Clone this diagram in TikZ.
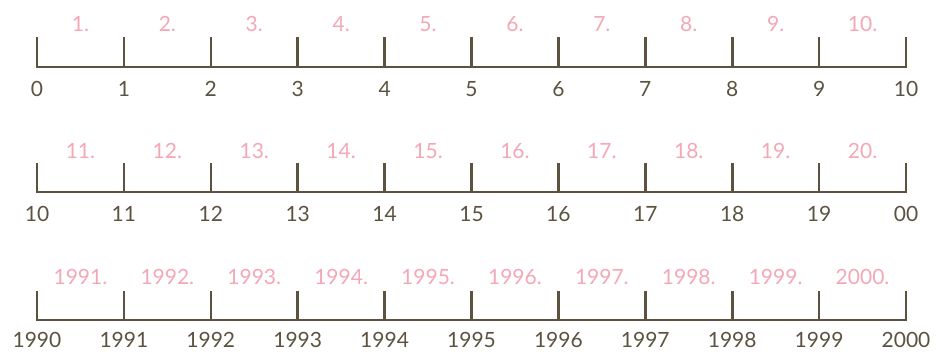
\documentclass[tikz,border=0pt]{standalone}
\usepackage{fontspec}
\setmainfont{Lato}
\usepackage{tikz}
\usetikzlibrary{calc}

\definecolor{axisbrown}{HTML}{5C5240}
\definecolor{yearpink}{HTML}{F4A7B6}

\tikzset{
  axisline/.style={line width=2.6pt, axisbrown},
  ticklabel/.style={anchor=base, font=\fontsize{21}{23}\selectfont, text=axisbrown, inner sep=0pt},
  spanlabel/.style={anchor=base, font=\fontsize{21}{23}\selectfont, text=yearpink, inner sep=0pt}
}

\begin{document}
\begin{tikzpicture}[x=1pt, y=-1pt]
  \useasboundingbox (0,0) rectangle (938,352);
  % three number lines, tick spacing 86.9, from x=37 to x=906

  % Row 1: 0 ... 10
  \foreach \i in {0,...,10} {
    \coordinate (a\i) at (37+86.9*\i,67);
    \coordinate (at\i) at (37+86.9*\i,37);
    \node[ticklabel] (al\i) at (37+86.9*\i,97) {\i};
  }
  \draw[axisline] (at0) -- (a0) -- (a10) -- (at10);
  \foreach \i in {1,...,9} {
    \draw[axisline] (a\i) -- (at\i);
  }
  \foreach \i in {1,...,10} {
    \node[spanlabel] (ap\i) at (37+86.9*\i-43.45,32) {\i.};
  }

  % Row 2: 10 ... 19, 00
  \foreach \i in {0,...,10} {
    \coordinate (b\i) at (37+86.9*\i,192);
    \coordinate (bt\i) at (37+86.9*\i,163);
  }
  \foreach \i in {0,...,9} {
    \pgfmathtruncatemacro{\n}{10+\i}
    \node[ticklabel] (bl\i) at (37+86.9*\i,222) {\n};
  }
  \node[ticklabel] (bl10) at (906,222) {00};
  \draw[axisline] (bt0) -- (b0) -- (b10) -- (bt10);
  \foreach \i in {1,...,9} {
    \draw[axisline] (b\i) -- (bt\i);
  }
  \foreach \i in {1,...,10} {
    \pgfmathtruncatemacro{\n}{10+\i}
    \node[spanlabel] (bp\i) at (37+86.9*\i-43.45,159) {\n.};
  }

  % Row 3: 1990 ... 2000
  \foreach \i in {0,...,10} {
    \pgfmathtruncatemacro{\n}{1990+\i}
    \coordinate (c\i) at (37+86.9*\i,320);
    \coordinate (ct\i) at (37+86.9*\i,291);
    \node[ticklabel] (cl\i) at (37+86.9*\i,348) {\n};
  }
  \draw[axisline] (ct0) -- (c0) -- (c10) -- (ct10);
  \foreach \i in {1,...,9} {
    \draw[axisline] (c\i) -- (ct\i);
  }
  \foreach \i in {1,...,10} {
    \pgfmathtruncatemacro{\n}{1990+\i}
    \node[spanlabel] (cp\i) at (37+86.9*\i-43.45,285) {\n.};
  }
\end{tikzpicture}
\end{document}
